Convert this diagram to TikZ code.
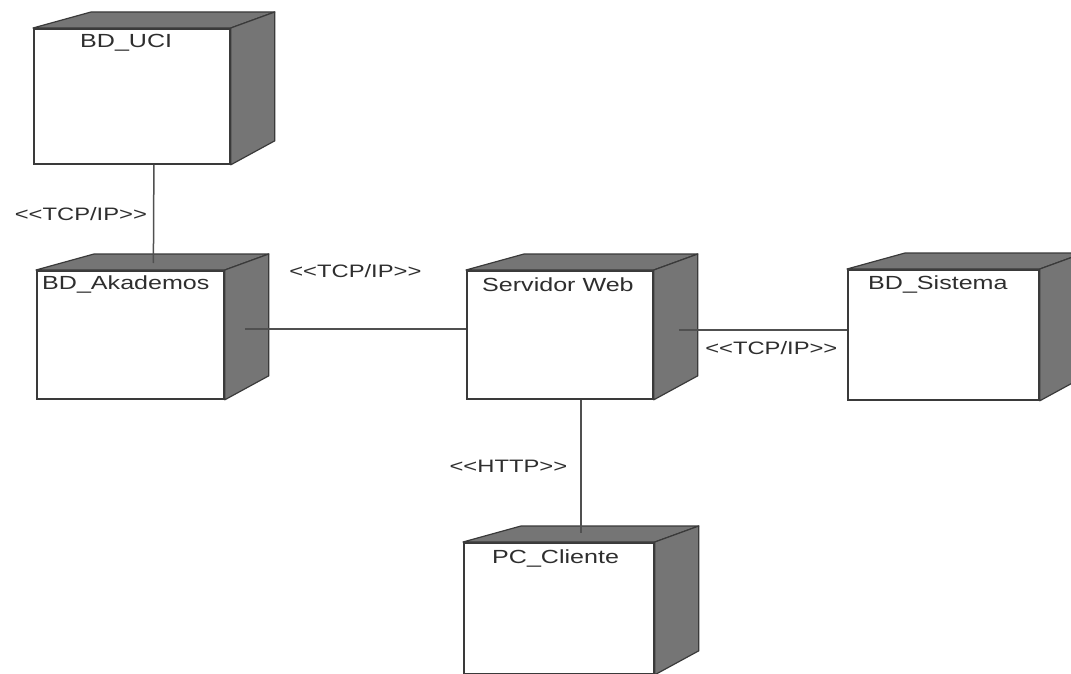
\documentclass[tikz,border=0pt]{standalone}
\usepackage{fontspec}
\setmainfont[FakeStretch=1.32]{Liberation Sans}
\usetikzlibrary{calc}

\definecolor{edge}{HTML}{3A3A3A}
\definecolor{shade}{HTML}{757575}
\definecolor{wire}{HTML}{505050}
\definecolor{ink}{HTML}{2E2E2E}

\tikzset{
  front/.style={draw=edge, line width=1.8pt, fill=white, inner sep=0pt,
                anchor=north west, rectangle},
  face/.style={fill=shade, draw=edge, line width=1.2pt, line join=round},
  title/.style={text=ink, font=\fontsize{19}{22}\selectfont, anchor=west, inner sep=0pt},
  stereo/.style={text=ink, font=\fontsize{18}{22}\selectfont, inner sep=0pt},
  wire/.style={draw=wire, line width=1.5pt}
}

% guillemet-like stereotype brackets made of two separate angle signs
\newcommand\lst{<\kern0pt<}
\newcommand\rst{>\kern0pt>}

% top and side faces of a deployment node, drawn behind its front face
\newcommand\nodefaces[1]{%
  \path[face] (#1.north west) -- ++(58,-16) -- ($(#1.north east)+(44,-16)$)
              -- (#1.north east) -- cycle;
  \path[face] (#1.north east) -- ++(44,-16) -- ($(#1.south east)+(44,-24)$)
              -- (#1.south east) -- cycle;
}

\begin{document}
\begin{tikzpicture}[x=1pt, y=-1pt]
  \useasboundingbox (0,0) rectangle (1071,674);
  \clip (0,0) rectangle (1071,674);
  \fill[white] (0,0) rectangle (1071,674);

  % front faces
  \node[front, minimum width=196pt, minimum height=135pt] (uci) at (33,28) {};
  \node[front, minimum width=187pt, minimum height=128pt] (aka) at (36,270) {};
  \node[front, minimum width=186pt, minimum height=128pt] (web) at (466,270) {};
  \node[front, minimum width=191pt, minimum height=130pt] (sis) at (847,269) {};
  \node[front, minimum width=190pt, minimum height=131pt] (pc)  at (463,542) {};

  % top and side faces
  \nodefaces{uci}
  \nodefaces{aka}
  \nodefaces{web}
  \nodefaces{sis}
  \nodefaces{pc}

  % node names
  \node[title] (uci-t) at ($(uci.north west)+(47,15)$) {BD\_UCI};
  \node[title] (aka-t) at ($(aka.north west)+(6,15)$) {BD\_Akademos};
  \node[title] (web-t) at ($(web.north west)+(16,15)$) {Servidor Web};
  \node[title] (sis-t) at ($(sis.north west)+(21,16)$) {BD\_Sistema};
  \node[title] (pc-t)  at ($(pc.north west)+(29,16)$) {PC\_Cliente};

  % communication links
  \draw[wire] ([xshift=22pt]uci.south) -- ([xshift=23pt,yshift=7pt]aka.north)
    node[stereo, pos=0.5, anchor=east, xshift=-6pt] (l1) {\lst TCP/IP\rst};
  \draw[wire] ([xshift=20pt,yshift=6pt]aka.east) -- ([yshift=6pt]web.west)
    node[stereo, pos=0.5, yshift=58pt] (l2) {\lst TCP/IP\rst};
  \draw[wire] ([xshift=25pt,yshift=5pt]web.east) -- ([yshift=5pt]sis.west)
    node[stereo, pos=0.55, yshift=-18pt] (l3) {\lst TCP/IP\rst};
  \draw[wire] ([xshift=21pt]web.south) -- ([xshift=22pt,yshift=9pt]pc.north)
    node[stereo, pos=0.5, anchor=east, xshift=-13pt] (l4) {\lst HTTP\rst};
\end{tikzpicture}
\end{document}
